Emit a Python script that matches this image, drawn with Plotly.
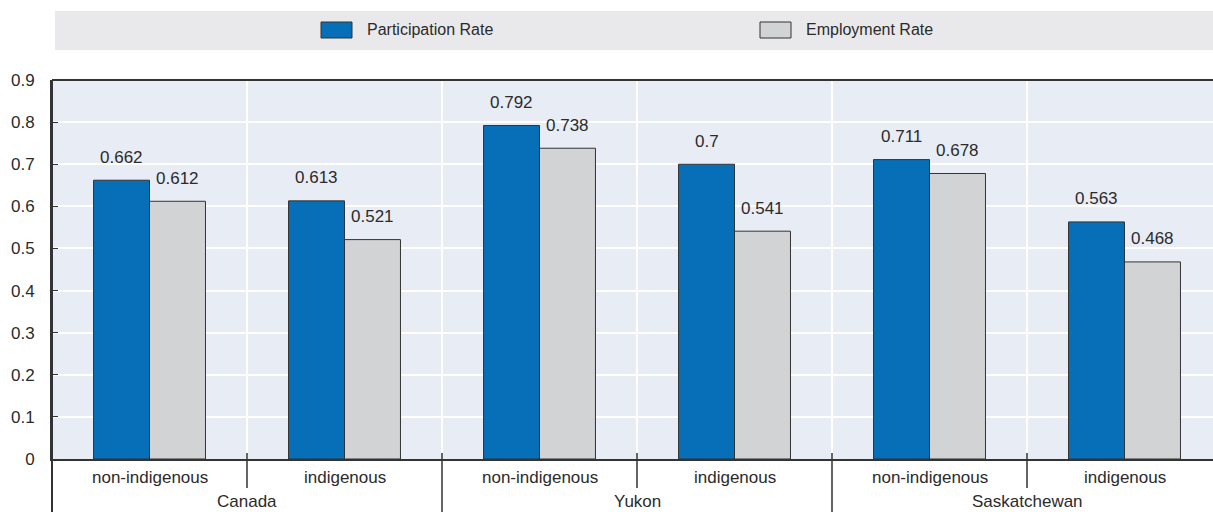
import plotly.graph_objects as go

# Data
regions = ["Canada", "Yukon", "Saskatchewan"]
groups = ["non-indigenous", "indigenous"]
participation = [0.662, 0.613, 0.792, 0.7, 0.711, 0.563]
employment = [0.612, 0.521, 0.738, 0.541, 0.678, 0.468]
y_ticks = [0, 0.1, 0.2, 0.3, 0.4, 0.5, 0.6, 0.7, 0.8, 0.9]
series_names = ["Participation Rate", "Employment Rate"]

W, H = 1213, 512
L, T, B = 52, 80, 459          # plot-area pixel edges
CAT_PX = 195                   # pixels per category
FONT = "Liberation Sans Narrow, Arial Narrow, Liberation Sans, Arial, sans-serif"
BLUE = "#066fb8"
GREY = "#d2d3d5"
EDGE = "#333333"
TXT = "#2b2b2b"


def px(x):
    return (x - L) / (W - L)


def py(y):
    return (B - y) / (B - T)


n = len(participation)
xs = list(range(n))
bw = 0.287

fig = go.Figure()
fig.add_trace(go.Bar(x=xs, y=participation, name=series_names[0], width=bw, offset=-bw,
                     marker=dict(color=BLUE, line=dict(color=EDGE, width=1)), showlegend=False))
fig.add_trace(go.Bar(x=xs, y=employment, name=series_names[1], width=bw, offset=0,
                     marker=dict(color=GREY, line=dict(color=EDGE, width=1)), showlegend=False))

ann = []
# value labels
for i in xs:
    ann.append(dict(x=i - bw / 2, y=participation[i], xref="x", yref="y", text=str(participation[i]),
                    showarrow=False, yshift=23, font=dict(size=17, color=TXT, family=FONT)))
    ann.append(dict(x=i + bw / 2, y=employment[i], xref="x", yref="y", text=str(employment[i]),
                    showarrow=False, yshift=23, font=dict(size=17, color=TXT, family=FONT)))

# category labels
for i in xs:
    ann.append(dict(x=i, y=py(477), xref="x", yref="paper", text=groups[i % 2], showarrow=False,
                    yanchor="middle", font=dict(size=17, color=TXT, family=FONT)))
for g, r in enumerate(regions):
    ann.append(dict(x=2 * g + 0.5, y=py(501), xref="x", yref="paper", text=r, showarrow=False,
                    yanchor="middle", font=dict(size=17, color=TXT, family=FONT)))

shapes = []
# separators under the axis
for k in range(1, n):
    bottom = 512 if k % 2 == 0 else 488
    shapes.append(dict(type="line", xref="x", yref="paper", x0=k - 0.5, x1=k - 0.5,
                       y0=py(453), y1=py(bottom), line=dict(color=EDGE, width=1.5)))
# left axis extension below plot
shapes.append(dict(type="line", xref="paper", yref="paper", x0=px(52), x1=px(52),
                   y0=py(T), y1=py(512), line=dict(color=EDGE, width=2)))
# top border
shapes.append(dict(type="line", xref="paper", yref="paper", x0=px(52), x1=1,
                   y0=1, y1=1, line=dict(color=EDGE, width=2)))

# legend band
shapes.append(dict(type="rect", xref="paper", yref="paper", x0=px(55), x1=px(1213),
                   y0=py(11), y1=py(50), fillcolor="#e9e9eb", line=dict(width=0), layer="below"))
legend_items = [(series_names[0], BLUE, 321), (series_names[1], GREY, 760)]
for name, col, x0 in legend_items:
    shapes.append(dict(type="rect", xref="paper", yref="paper", x0=px(x0), x1=px(x0 + 31),
                       y0=py(22), y1=py(38), fillcolor=col, line=dict(color=EDGE, width=1)))
    ann.append(dict(x=px(x0 + 44), y=py(30), xref="paper", yref="paper", text=name,
                    showarrow=False, xanchor="left", yanchor="middle",
                    font=dict(size=16, color=TXT, family=FONT)))

fig.update_layout(
    width=W, height=H,
    margin=dict(l=L, r=0, t=T, b=H - B),
    paper_bgcolor="white",
    plot_bgcolor="#e8ecf5",
    barmode="overlay",
    annotations=ann,
    shapes=shapes,
    font=dict(family=FONT, size=17, color=TXT),
    xaxis=dict(range=[-0.5, -0.5 + (W - L) / CAT_PX], tickvals=[k + 0.5 for k in range(n)],
               showticklabels=False, showgrid=True, gridcolor="white", gridwidth=1.5,
               zeroline=False, showline=True, linecolor=EDGE, linewidth=2, ticks=""),
    yaxis=dict(range=[0, 0.9], tickvals=y_ticks, ticktext=[f"{v:g}" for v in y_ticks],
               showgrid=True, gridcolor="white", gridwidth=1.5, zeroline=False,
               showline=True, linecolor=EDGE, linewidth=2, ticks="inside", ticklen=6,
               tickcolor=EDGE, ticklabelstandoff=12, tickfont=dict(size=17, color=TXT, family=FONT)),
)

fig.write_html("out.html")
